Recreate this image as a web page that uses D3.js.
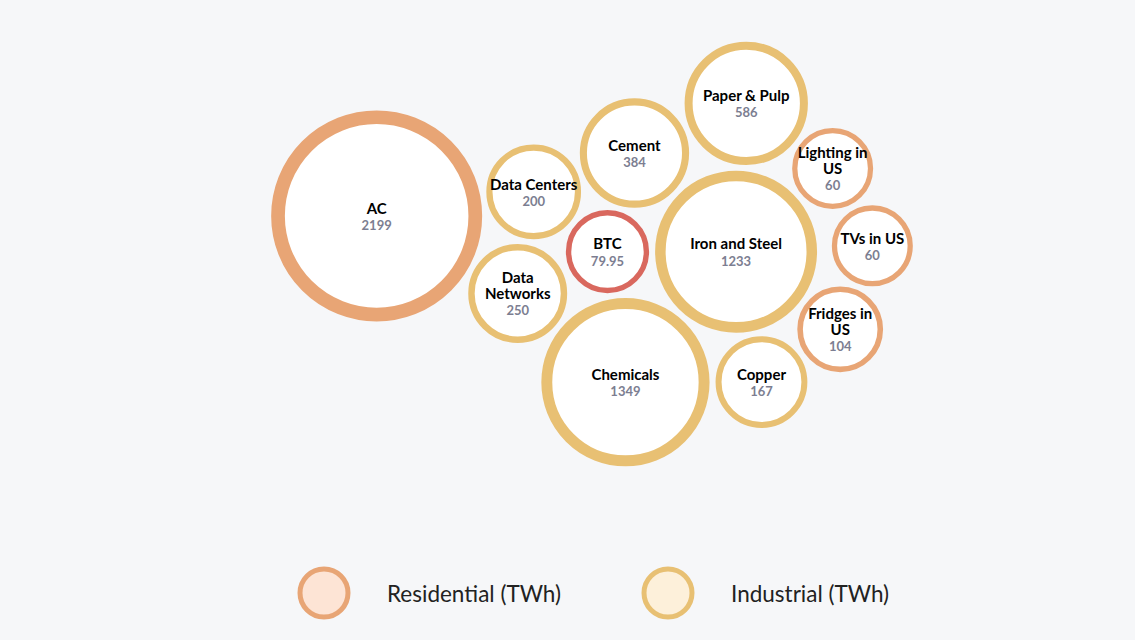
<!DOCTYPE html>
<html>
<head>
<meta charset="utf-8">
<script src="https://cdn.jsdelivr.net/npm/d3@7"></script>
<style>
  html, body { margin: 0; padding: 0; background: #f6f7f9; }
  svg { display: block; }
  text { font-family: Lato, "Open Sans", sans-serif; }
</style>
</head>
<body>
<svg id="chart" width="1135" height="640"></svg>
<script>
// ---- data (listed in packing order) ----
const categories = ["BTC", "Iron and Steel", "Cement", "Chemicals", "Paper & Pulp", "Copper", "Data Centers", "Data Networks", "Lighting in US", "Fridges in US", "TVs in US", "AC"];
const valuesTWh  = [79.95, 1233, 384, 1349, 586, 167, 200, 250, 60, 104, 60, 2199];
const groups     = ["BTC", "Industrial", "Industrial", "Industrial", "Industrial", "Industrial", "Industrial", "Industrial", "Residential", "Residential", "Residential", "Residential"];
const legendLabels = ["Residential (TWh)", "Industrial (TWh)"];
const legendGroups = ["Residential", "Industrial"];

// ---- styles ----
const stroke = { Residential: "#e8a575", Industrial: "#e8c073", BTC: "#d9685e" };
const legendFill = { Residential: "#fde4d5", Industrial: "#fdf0da" };
const PAD = 3;

const svg = d3.select("#chart");

// diameter scale (outer edge of ring)
const dScale = d3.scalePow().exponent(0.75)
  .domain([d3.min(valuesTWh), d3.max(valuesTWh)])
  .range([81, 211]);

const nodes = categories.map((c, i) => ({
  name: c, value: valuesTWh[i], group: groups[i], R: dScale(valuesTWh[i]) / 2
}));
nodes.forEach(d => { d.r = d.R + PAD; });

// pack all but the largest bubble with d3's front-chain packing
const largest = nodes.reduce((a, b) => (b.value > a.value ? b : a));
const rest = nodes.filter(d => d !== largest);
d3.packSiblings(rest);

// the largest bubble sits on the outer left flank, tangent to the two left-most bubbles
const lm = rest.slice().sort((a, b) => (a.x - a.r) - (b.x - b.r)).slice(0, 2);
(function placeTangent(P, Q, c) {
  const dx = Q.x - P.x, dy = Q.y - P.y, d = Math.hypot(dx, dy);
  const dp = P.r + c.r, dq = Q.r + c.r;
  const a = (dp * dp - dq * dq + d * d) / (2 * d);
  const h = Math.sqrt(Math.max(0, dp * dp - a * a));
  const bx = P.x + a * dx / d, by = P.y + a * dy / d;
  const c1 = [bx - h * dy / d, by + h * dx / d], c2 = [bx + h * dy / d, by - h * dx / d];
  const pick = c1[0] < c2[0] ? c1 : c2;
  c.x = pick[0]; c.y = pick[1];
})(lm[0], lm[1], largest);

// fit into the drawing area
const x0 = d3.min(nodes, d => d.x - d.R), x1 = d3.max(nodes, d => d.x + d.R);
const y0 = d3.min(nodes, d => d.y - d.R), y1 = d3.max(nodes, d => d.y + d.R);
const cx = 592, cy = 254;
const xS = d3.scaleLinear().domain([x0, x1]).range([cx - (x1 - x0) / 2, cx + (x1 - x0) / 2]);
const yS = d3.scaleLinear().domain([y0, y1]).range([cy + (y1 - y0) / 2, cy - (y1 - y0) / 2]);

const bubble = svg.append("g").selectAll("g.bubble").data(nodes).join("g")
  .attr("class", "bubble")
  .attr("transform", d => `translate(${xS(d.x)},${yS(d.y)})`);

bubble.append("circle")
  .attr("r", d => d.R - d.R * 0.13 / 2)
  .attr("fill", "#ffffff")
  .attr("stroke", d => stroke[d.group])
  .attr("stroke-width", d => d.R * 0.13);

// labels with word wrapping
const LABEL_SIZE = 15, VALUE_SIZE = 13;
bubble.each(function(d) {
  const sel = d3.select(this);
  const maxW = d.R * 1.9;
  const words = d.name.split(" ");
  const lines = [];
  const probe = sel.append("text").attr("font-size", LABEL_SIZE).attr("font-weight", 700);
  let cur = "";
  words.forEach(w => {
    const test = cur ? cur + " " + w : w;
    probe.text(test);
    if (probe.node().getComputedTextLength() > maxW && cur) {
      lines.push(cur); cur = w;
    } else cur = test;
  });
  lines.push(cur);
  probe.remove();
  const lh = 16, vgap = 17;
  const total = (lines.length - 1) * lh + vgap;
  const top = -total / 2 + 1;
  const t = sel.append("text")
    .attr("text-anchor", "middle")
    .attr("font-size", LABEL_SIZE).attr("font-weight", 700).attr("fill", "#000");
  lines.forEach((ln, i) => {
    t.append("tspan").attr("x", 0).attr("y", top + i * lh).attr("dy", "0.35em").text(ln);
  });
  sel.append("text")
    .attr("text-anchor", "middle")
    .attr("x", 0).attr("y", top + (lines.length - 1) * lh + vgap).attr("dy", "0.35em")
    .attr("font-size", VALUE_SIZE).attr("font-weight", 700).attr("fill", "#7c7e91")
    .text(d.value);
});

// legend
const legX = d3.scalePoint().domain(legendGroups).range([324, 668]);
const leg = svg.append("g").selectAll("g").data(legendGroups).join("g")
  .attr("transform", d => `translate(${legX(d)},593)`);
leg.append("circle").attr("r", 24).attr("fill", d => legendFill[d])
  .attr("stroke", d => stroke[d]).attr("stroke-width", 5);
leg.append("text").attr("x", 63).attr("y", 1).attr("dy", "0.35em")
  .attr("font-size", 22.5).attr("fill", "#222")
  .text((d, i) => legendLabels[i]);
</script>
</body>
</html>
